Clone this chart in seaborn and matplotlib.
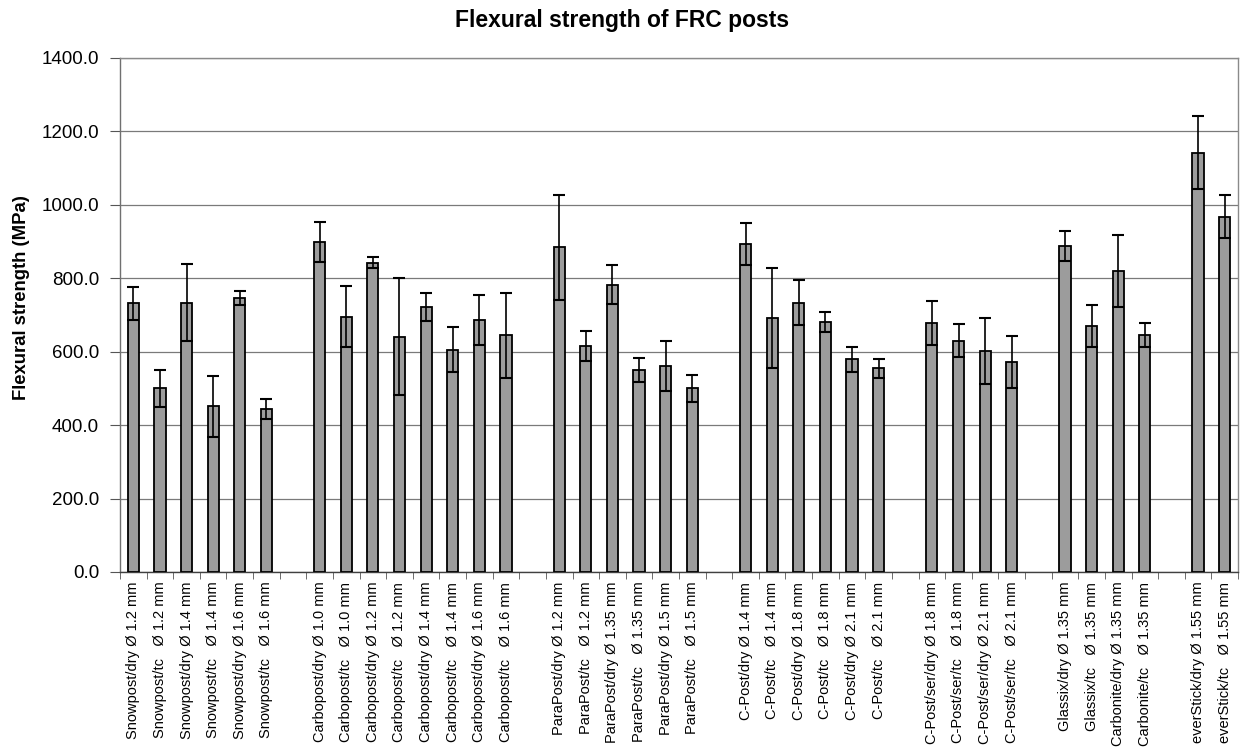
import matplotlib
matplotlib.use("Agg")
import matplotlib.pyplot as plt
import matplotlib.ticker as mticker
import seaborn as sns
import pandas as pd
import numpy as np

# ---- data ----
labels = [
    "Snowpost/dry Ø 1.2 mm", "Snowpost/tc   Ø 1.2 mm",
    "Snowpost/dry Ø 1.4 mm", "Snowpost/tc   Ø 1.4 mm",
    "Snowpost/dry Ø 1.6 mm", "Snowpost/tc   Ø 1.6 mm",
    "",
    "Carbopost/dry Ø 1.0 mm", "Carbopost/tc   Ø 1.0 mm",
    "Carbopost/dry Ø 1.2 mm", "Carbopost/tc   Ø 1.2 mm",
    "Carbopost/dry Ø 1.4 mm", "Carbopost/tc   Ø 1.4 mm",
    "Carbopost/dry Ø 1.6 mm", "Carbopost/tc   Ø 1.6 mm",
    "",
    "ParaPost/dry Ø 1.2 mm", "ParaPost/tc   Ø 1.2 mm",
    "ParaPost/dry Ø 1.35 mm", "ParaPost/tc   Ø 1.35 mm",
    "ParaPost/dry Ø 1.5 mm", "ParaPost/tc   Ø 1.5 mm",
    "",
    "C-Post/dry Ø 1.4 mm", "C-Post/tc   Ø 1.4 mm",
    "C-Post/dry Ø 1.8 mm", "C-Post/tc   Ø 1.8 mm",
    "C-Post/dry Ø 2.1 mm", "C-Post/tc   Ø 2.1 mm",
    "",
    "C-Post/ser/dry Ø 1.8 mm", "C-Post/ser/tc   Ø 1.8 mm",
    "C-Post/ser/dry Ø 2.1 mm", "C-Post/ser/tc   Ø 2.1 mm",
    "",
    "Glassix/dry Ø 1.35 mm", "Glassix/tc   Ø 1.35 mm",
    "Carbonite/dry Ø 1.35 mm", "Carbonite/tc   Ø 1.35 mm",
    "",
    "everStick/dry Ø 1.55 mm", "everStick/tc   Ø 1.55 mm",
]

nan = np.nan
means = [
    732, 500, 734, 452, 746, 445,
    nan,
    899, 695, 842, 641, 723, 605, 686, 645,
    nan,
    884, 616, 782, 550, 560, 500,
    nan,
    893, 692, 734, 682, 579, 555,
    nan,
    679, 630, 602, 572,
    nan,
    888, 669, 821, 645,
    nan,
    1142, 968,
]

sds = [
    45, 50, 104, 83, 20, 27,
    nan,
    55, 83, 15, 159, 38, 61, 69, 116,
    nan,
    142, 40, 53, 33, 68, 37,
    nan,
    57, 137, 62, 27, 35, 26,
    nan,
    60, 45, 91, 72,
    nan,
    42, 57, 98, 33,
    nan,
    100, 59,
]

title = "Flexural strength of FRC posts"
ylabel = "Flexural strength (MPa)"
yticks = [0, 200, 400, 600, 800, 1000, 1200, 1400]

# ---- build ----
sns.set_style("white")
plt.rcParams["font.family"] = ["Liberation Sans", "DejaVu Sans"]
plt.rcParams["text.color"] = "black"
plt.rcParams["xtick.labelcolor"] = "black"
plt.rcParams["ytick.labelcolor"] = "black"

keys = [lab if lab else f"gap{i}" for i, lab in enumerate(labels)]
df = pd.DataFrame({"key": keys, "mean": means, "sd": sds})

fig = plt.figure(figsize=(12.45, 7.51), dpi=100)
ax = fig.add_axes([120 / 1245, 1 - 572 / 751, (1238 - 120) / 1245, (572 - 58) / 751])

sns.barplot(data=df.dropna(), x="key", y="mean", order=keys, ax=ax,
            color="#9c9c9c", saturation=1, width=0.42,
            edgecolor="black", linewidth=1.3, errorbar=None, zorder=3)

xpos = np.arange(len(keys))
ax.errorbar(xpos, df["mean"], yerr=df["sd"], fmt="none", ecolor="black",
            elinewidth=1.2, capsize=4, capthick=1.5, zorder=4)

ax.set_xlim(-0.5, len(keys) - 0.5)
ax.set_ylim(0, 1400)
ax.set_yticks(yticks)
ax.yaxis.set_major_formatter(mticker.FuncFormatter(lambda v, p: f"{v:.1f}"))
ax.grid(axis="y", color="#7a7a7a", linewidth=0.9, zorder=0)
ax.grid(axis="x", visible=False)

ax.set_xticks(xpos)
ax.set_xticklabels(labels, rotation=90, fontsize=10.5)
ax.xaxis.set_minor_locator(mticker.FixedLocator(np.arange(-0.5, len(keys), 1.0)))
ax.tick_params(axis="x", which="major", length=0, pad=7)
ax.tick_params(axis="x", which="minor", length=5, direction="out", color="#555555", bottom=True)
ax.tick_params(axis="y", which="major", length=7, direction="out", color="#555555",
               labelsize=13.5, pad=8, left=True)

ax.set_xlabel("")
ax.set_ylabel("")
for side in ["top", "right"]:
    ax.spines[side].set_color("#8a8a8a")
    ax.spines[side].set_linestyle((0, (1, 1)))
    ax.spines[side].set_linewidth(1.0)
ax.spines["left"].set_color("#707070")
ax.spines["left"].set_linewidth(1.0)
ax.spines["bottom"].set_color("#404040")
ax.spines["bottom"].set_linewidth(1.0)

fig.text(0.5, 1 - 21 / 751, title, ha="center", va="center",
         fontsize=16.5, fontweight="bold")
fig.text(22 / 1245, 1 - 298 / 751, ylabel, ha="center", va="center",
         rotation=90, fontsize=13.3, fontweight="bold")

fig.savefig("out.png", dpi=100)
